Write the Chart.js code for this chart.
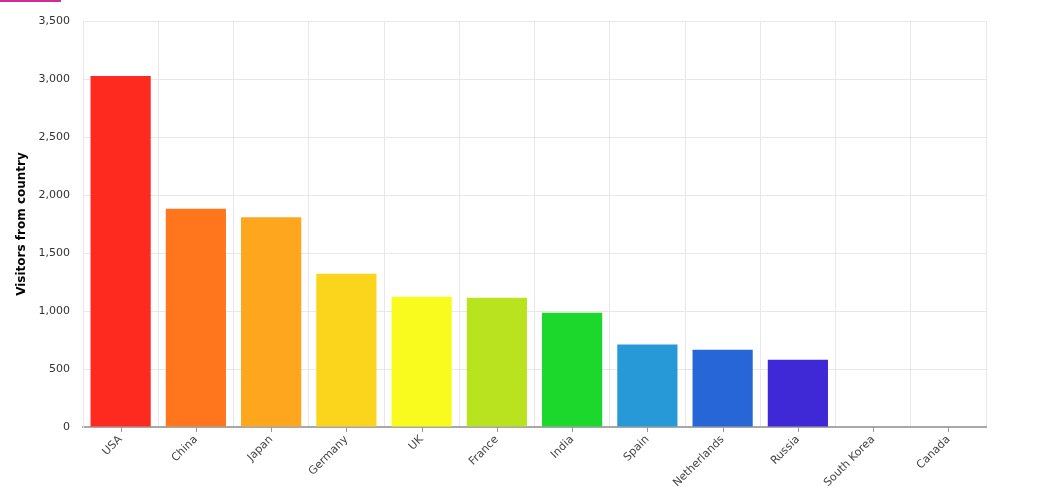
<!DOCTYPE html>
<html>
<head>
<meta charset="utf-8">
<script src="https://cdn.jsdelivr.net/npm/chart.js@4/dist/chart.umd.min.js"></script>
<style>
html,body{margin:0;padding:0;background:#fff;}
#wrap{position:relative;width:1056px;height:500px;}
#bar{position:absolute;left:0;top:0;width:61px;height:2px;background:#d02a9c;}
</style>
</head>
<body>
<div id="wrap"><div id="bar"></div><canvas id="c" width="1056" height="500"></canvas></div>
<script>
const categories = ["USA","China","Japan","Germany","UK","France","India","Spain","Netherlands","Russia","South Korea","Canada"];
const visitors = [3025, 1882, 1809, 1322, 1122, 1114, 984, 711, 665, 580, 0, 0];
const barColors = ["#FF2A1F","#FF761C","#FDA61E","#FBD51B","#F8FB1D","#B9E31F","#1CD82C","#2699D6","#2766D6","#3F28D6","#8A24D6","#CC24B6"];
const yTicks = [0, 500, 1000, 1500, 2000, 2500, 3000, 3500];

const centerTicks = {
  id: 'centerTicks',
  afterDatasetsDraw(chart) {
    const x = chart.scales.x, ctx = chart.ctx, y0 = chart.chartArea.bottom;
    ctx.save();
    ctx.strokeStyle = '#999';
    ctx.lineWidth = 1;
    for (let i = 0; i < categories.length; i++) {
      const px = Math.round(x.getPixelForValue(i)) + 0.5;
      ctx.beginPath(); ctx.moveTo(px, y0); ctx.lineTo(px, y0 + 5); ctx.stroke();
    }
    ctx.restore();
  }
};

new Chart(document.getElementById('c'), {
  type: 'bar',
  data: {
    labels: categories,
    datasets: [{ data: visitors, backgroundColor: barColors, borderWidth: 0, barPercentage: 0.8, categoryPercentage: 1.0 }]
  },
  options: {
    responsive: false,
    animation: false,
    layout: { padding: { left: 0, right: 70, top: 21, bottom: 0 } },
    plugins: { legend: { display: false }, tooltip: { enabled: false } },
    scales: {
      x: {
        grid: { color: '#e8e8e8', offset: true, drawTicks: false, lineWidth: 1 },
        border: { color: '#a8a8a8', width: 2 },
        ticks: { color: '#444', font: { family: 'DejaVu Sans', size: 11 }, minRotation: 45, maxRotation: 45, padding: 6, autoSkip: false },
        afterFit(s) { s.height = 73; }
      },
      y: {
        min: 0, max: 3500,
        afterBuildTicks(s) { s.ticks = yTicks.map(v => ({ value: v })); },
        grid: { color: '#e8e8e8', drawTicks: false },
        border: { color: '#e8e8e8', width: 1 },
        ticks: { color: '#333', font: { family: 'DejaVu Sans', size: 11 }, padding: 13, callback: v => v.toLocaleString('en-US') },
        title: { display: true, text: 'Visitors from country', color: '#000', font: { family: 'DejaVu Sans', size: 12, weight: 'bold' }, padding: { top: 15, bottom: 0 } },
        afterFit(s) { s.width = 83; }
      }
    }
  },
  plugins: [centerTicks]
});
</script>
</body>
</html>
